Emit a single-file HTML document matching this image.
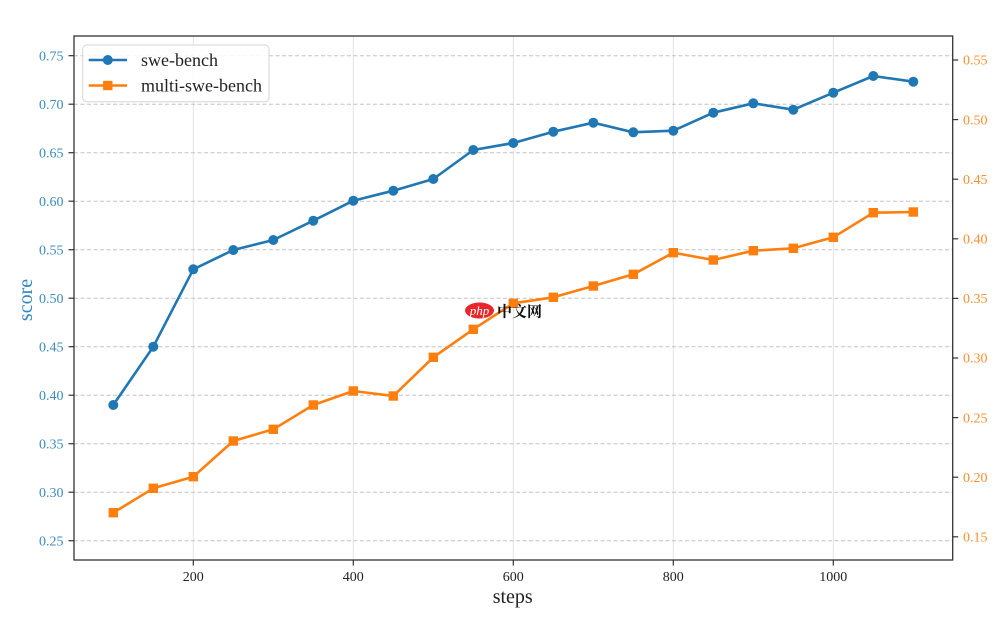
<!DOCTYPE html>
<html><head><meta charset="utf-8"><style>
html,body{margin:0;padding:0;background:#fff;}
svg{display:block;}
text{font-family:"Liberation Serif","Noto Serif CJK SC",serif;}
</style></head><body>
<svg width="1008" height="621" viewBox="0 0 1008 621" xmlns="http://www.w3.org/2000/svg">
<rect width="1008" height="621" fill="#fff"/>
<g stroke="#e3e3e3" stroke-width="1">
<line x1="193.3" y1="36" x2="193.3" y2="560"/>
<line x1="353.3" y1="36" x2="353.3" y2="560"/>
<line x1="513.3" y1="36" x2="513.3" y2="560"/>
<line x1="673.3" y1="36" x2="673.3" y2="560"/>
<line x1="833.3" y1="36" x2="833.3" y2="560"/>
</g>
<g stroke="#c4c4c4" stroke-width="1" stroke-dasharray="4,2.5">
<line x1="74" y1="55.7" x2="952.7" y2="55.7"/>
<line x1="74" y1="104.2" x2="952.7" y2="104.2"/>
<line x1="74" y1="152.7" x2="952.7" y2="152.7"/>
<line x1="74" y1="201.2" x2="952.7" y2="201.2"/>
<line x1="74" y1="249.7" x2="952.7" y2="249.7"/>
<line x1="74" y1="298.2" x2="952.7" y2="298.2"/>
<line x1="74" y1="346.7" x2="952.7" y2="346.7"/>
<line x1="74" y1="395.2" x2="952.7" y2="395.2"/>
<line x1="74" y1="443.7" x2="952.7" y2="443.7"/>
<line x1="74" y1="492.2" x2="952.7" y2="492.2"/>
<line x1="74" y1="540.7" x2="952.7" y2="540.7"/>
</g>
<rect x="74" y="36" width="878.7" height="524" fill="none" stroke="#333" stroke-width="1.3"/>
<g stroke="#333" stroke-width="1.2">
<line x1="68.5" y1="55.7" x2="74" y2="55.7"/>
<line x1="68.5" y1="104.2" x2="74" y2="104.2"/>
<line x1="68.5" y1="152.7" x2="74" y2="152.7"/>
<line x1="68.5" y1="201.2" x2="74" y2="201.2"/>
<line x1="68.5" y1="249.7" x2="74" y2="249.7"/>
<line x1="68.5" y1="298.2" x2="74" y2="298.2"/>
<line x1="68.5" y1="346.7" x2="74" y2="346.7"/>
<line x1="68.5" y1="395.2" x2="74" y2="395.2"/>
<line x1="68.5" y1="443.7" x2="74" y2="443.7"/>
<line x1="68.5" y1="492.2" x2="74" y2="492.2"/>
<line x1="68.5" y1="540.7" x2="74" y2="540.7"/>
<line x1="952.7" y1="60" x2="958.2" y2="60"/>
<line x1="952.7" y1="119.6" x2="958.2" y2="119.6"/>
<line x1="952.7" y1="179.2" x2="958.2" y2="179.2"/>
<line x1="952.7" y1="238.8" x2="958.2" y2="238.8"/>
<line x1="952.7" y1="298.4" x2="958.2" y2="298.4"/>
<line x1="952.7" y1="358" x2="958.2" y2="358"/>
<line x1="952.7" y1="417.6" x2="958.2" y2="417.6"/>
<line x1="952.7" y1="477.2" x2="958.2" y2="477.2"/>
<line x1="952.7" y1="536.8" x2="958.2" y2="536.8"/>
<line x1="193.3" y1="560" x2="193.3" y2="565.5"/>
<line x1="353.3" y1="560" x2="353.3" y2="565.5"/>
<line x1="513.3" y1="560" x2="513.3" y2="565.5"/>
<line x1="673.3" y1="560" x2="673.3" y2="565.5"/>
<line x1="833.3" y1="560" x2="833.3" y2="565.5"/>
</g>
<g font-size="14" fill="#3d8bc2" text-anchor="end">
<text x="63.5" y="60.4">0.75</text>
<text x="63.5" y="108.9">0.70</text>
<text x="63.5" y="157.4">0.65</text>
<text x="63.5" y="205.9">0.60</text>
<text x="63.5" y="254.4">0.55</text>
<text x="63.5" y="302.9">0.50</text>
<text x="63.5" y="351.4">0.45</text>
<text x="63.5" y="399.9">0.40</text>
<text x="63.5" y="448.4">0.35</text>
<text x="63.5" y="496.9">0.30</text>
<text x="63.5" y="545.4">0.25</text>
</g>
<g font-size="14" fill="#ff8f33" text-anchor="start">
<text x="963" y="64.7">0.55</text>
<text x="963" y="124.3">0.50</text>
<text x="963" y="183.9">0.45</text>
<text x="963" y="243.5">0.40</text>
<text x="963" y="303.1">0.35</text>
<text x="963" y="362.7">0.30</text>
<text x="963" y="422.3">0.25</text>
<text x="963" y="481.9">0.20</text>
<text x="963" y="541.5">0.15</text>
</g>
<g font-size="14" fill="#222" text-anchor="middle">
<text x="193.3" y="581">200</text>
<text x="353.3" y="581">400</text>
<text x="513.3" y="581">600</text>
<text x="673.3" y="581">800</text>
<text x="833.3" y="581">1000</text>
</g>
<text x="512.7" y="603" font-size="20" fill="#222" text-anchor="middle">steps</text>
<text transform="translate(32,300) rotate(-90)" font-size="20" fill="#2f86c0" text-anchor="middle">score</text>
<polyline fill="none" stroke="#ff7f0e" stroke-width="2.6" stroke-linejoin="round" points="113.3,512.7 153.3,488.3 193.3,476.7 233.3,441 273.3,429.3 313.3,405 353.3,391 393.3,396 433.3,357.3 473.3,329.3 513.3,303.3 553.3,297.3 593.3,286 633.3,274.3 673.3,252.7 713.3,260 753.3,250.7 793.3,248.3 833.3,237.3 873.3,212.7 913.3,212"/>
<g fill="#ff7f0e">
<rect x="108.6" y="508" width="9.4" height="9.4"/>
<rect x="148.6" y="483.6" width="9.4" height="9.4"/>
<rect x="188.6" y="472" width="9.4" height="9.4"/>
<rect x="228.6" y="436.3" width="9.4" height="9.4"/>
<rect x="268.6" y="424.6" width="9.4" height="9.4"/>
<rect x="308.6" y="400.3" width="9.4" height="9.4"/>
<rect x="348.6" y="386.3" width="9.4" height="9.4"/>
<rect x="388.6" y="391.3" width="9.4" height="9.4"/>
<rect x="428.6" y="352.6" width="9.4" height="9.4"/>
<rect x="468.6" y="324.6" width="9.4" height="9.4"/>
<rect x="508.6" y="298.6" width="9.4" height="9.4"/>
<rect x="548.6" y="292.6" width="9.4" height="9.4"/>
<rect x="588.6" y="281.3" width="9.4" height="9.4"/>
<rect x="628.6" y="269.6" width="9.4" height="9.4"/>
<rect x="668.6" y="248" width="9.4" height="9.4"/>
<rect x="708.6" y="255.3" width="9.4" height="9.4"/>
<rect x="748.6" y="246" width="9.4" height="9.4"/>
<rect x="788.6" y="243.6" width="9.4" height="9.4"/>
<rect x="828.6" y="232.6" width="9.4" height="9.4"/>
<rect x="868.6" y="208" width="9.4" height="9.4"/>
<rect x="908.6" y="207.3" width="9.4" height="9.4"/>
</g>
<polyline fill="none" stroke="#1f77b4" stroke-width="2.6" stroke-linejoin="round" points="113.3,405 153.3,346.7 193.3,269.3 233.3,250 273.3,240 313.3,220.7 353.3,200.7 393.3,190.7 433.3,179 473.3,150 513.3,143 553.3,131.7 593.3,122.7 633.3,132.3 673.3,130.7 713.3,112.7 753.3,103.3 793.3,109.7 833.3,92.7 873.3,76 913.3,81.7"/>
<g fill="#1f77b4">
<circle cx="113.3" cy="405" r="5"/>
<circle cx="153.3" cy="346.7" r="5"/>
<circle cx="193.3" cy="269.3" r="5"/>
<circle cx="233.3" cy="250" r="5"/>
<circle cx="273.3" cy="240" r="5"/>
<circle cx="313.3" cy="220.7" r="5"/>
<circle cx="353.3" cy="200.7" r="5"/>
<circle cx="393.3" cy="190.7" r="5"/>
<circle cx="433.3" cy="179" r="5"/>
<circle cx="473.3" cy="150" r="5"/>
<circle cx="513.3" cy="143" r="5"/>
<circle cx="553.3" cy="131.7" r="5"/>
<circle cx="593.3" cy="122.7" r="5"/>
<circle cx="633.3" cy="132.3" r="5"/>
<circle cx="673.3" cy="130.7" r="5"/>
<circle cx="713.3" cy="112.7" r="5"/>
<circle cx="753.3" cy="103.3" r="5"/>
<circle cx="793.3" cy="109.7" r="5"/>
<circle cx="833.3" cy="92.7" r="5"/>
<circle cx="873.3" cy="76" r="5"/>
<circle cx="913.3" cy="81.7" r="5"/>
</g>
<rect x="82.7" y="45" width="186.3" height="56.7" rx="4" ry="4" fill="#fff" fill-opacity="0.85" stroke="#d6d6d6" stroke-width="1"/>
<line x1="88.7" y1="60" x2="127" y2="60" stroke="#1f77b4" stroke-width="2.6"/>
<circle cx="107.8" cy="60" r="5" fill="#1f77b4"/>
<line x1="88.7" y1="85.5" x2="127" y2="85.5" stroke="#ff7f0e" stroke-width="2.6"/>
<rect x="103.1" y="80.8" width="9.4" height="9.4" fill="#ff7f0e"/>
<g font-size="18" fill="#222">
<text x="141" y="66">swe-bench</text>
<text x="141" y="91.5">multi-swe-bench</text>
</g>
<ellipse cx="479.5" cy="310.5" rx="14.5" ry="8" fill="#e8262b"/>
<text x="479.5" y="315" font-family="Liberation Sans, sans-serif" font-size="13" font-style="italic" fill="#fff" text-anchor="middle">php</text>
<text x="497" y="316.5" font-family="'Liberation Sans','Noto Sans CJK SC',sans-serif" font-size="15" font-weight="bold" fill="#111">中文网</text>
</svg>
</body></html>
